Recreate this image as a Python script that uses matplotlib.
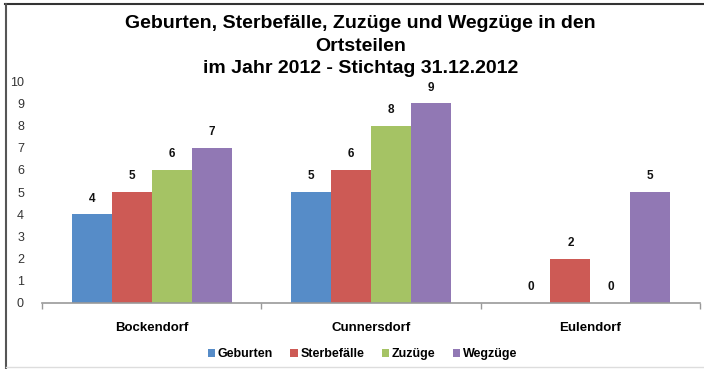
import numpy as np
import matplotlib.pyplot as plt
from matplotlib.lines import Line2D

plt.rcParams['font.family'] = ['Liberation Sans', 'DejaVu Sans']

# --- Data ---
ortsteile = ["Bockendorf", "Cunnersdorf", "Eulendorf"]
geburten = [4, 5, 0]
sterbefaelle = [5, 6, 2]
zuzuege = [6, 8, 0]
wegzuege = [7, 9, 5]

series_names = ["Geburten", "Sterbefälle", "Zuzüge", "Wegzüge"]
series_values = [geburten, sterbefaelle, zuzuege, wegzuege]
colors = ["#568CC8", "#CD5A55", "#A5C364", "#9178B4"]

title = ("Geburten, Sterbefälle, Zuzüge und Wegzüge in den\n"
         "Ortsteilen\n"
         "im Jahr 2012 - Stichtag 31.12.2012")

# --- Figure ---
fig = plt.figure(figsize=(7.04, 3.69), dpi=100)
ax = fig.add_axes([0.0597, 0.179, 0.9347, 0.601])

x = np.arange(len(ortsteile))
bar_w = 0.1824
offsets = (np.arange(len(series_names)) - 1.5) * bar_w

for name, vals, col, off in zip(series_names, series_values, colors, offsets):
    bars = ax.bar(x + off, vals, width=bar_w, color=col, label=name, linewidth=0)
    for b, v in zip(bars, vals):
        ax.annotate(str(v), (b.get_x() + b.get_width() / 2, v),
                    xytext=(0, 7), textcoords="offset points",
                    ha="center", va="bottom", fontsize=8.5, fontweight="bold",
                    color="#111111")

ax.set_xlim(-0.5, 2.5)
ax.set_ylim(0, 10)
ax.set_yticks(range(0, 11))
ax.tick_params(axis="y", length=0, pad=13, labelsize=9, labelcolor="#333333")

ax.set_xticks(x)
ax.set_xticklabels(ortsteile, fontweight="bold", fontsize=9.5)
ax.set_xticks([-0.5, 0.5, 1.5, 2.5], minor=True)
ax.tick_params(axis="x", which="major", length=0, pad=14)
ax.tick_params(axis="x", which="minor", length=4, color="#999999", width=1)

for side in ["top", "right", "left"]:
    ax.spines[side].set_visible(False)
ax.spines["bottom"].set_color("#999999")
ax.spines["bottom"].set_linewidth(1.2)

fig.text(0.512, 0.958, title, ha="center", va="top", fontsize=14,
         fontweight="bold", linespacing=1.42)

leg = fig.legend(loc="center", bbox_to_anchor=(0.515, 0.04), ncol=4,
                 frameon=False, prop={"weight": "bold", "size": 9},
                 handlelength=0.6, handleheight=0.6, handletextpad=0.2,
                 columnspacing=1.4)

# chart frame: dark top and left edges, light bottom edge
fig.lines.append(Line2D([0.007, 1.0], [0.988, 0.988], transform=fig.transFigure,
                        color="#333333", linewidth=1.5))
fig.lines.append(Line2D([0.008, 0.008], [0.0, 0.988], transform=fig.transFigure,
                        color="#555555", linewidth=1.5))
fig.lines.append(Line2D([0.008, 1.0], [0.005, 0.005], transform=fig.transFigure,
                        color="#dddddd", linewidth=1.0))

fig.savefig("out.png", dpi=100)
